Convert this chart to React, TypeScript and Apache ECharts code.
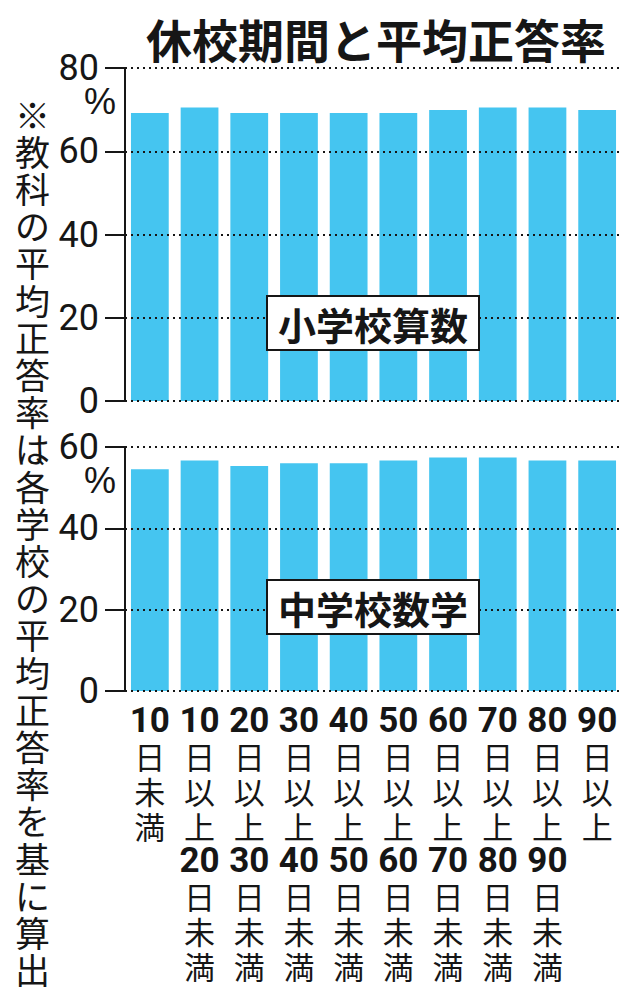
import React, { useEffect, useRef } from "react";
import * as echarts from "echarts";

const TITLE = "休校期間と平均正答率";
const NOTE_ROWS = ["※", "教", "科", "の", "平", "均", "正", "答", "率", "は", "各", "学", "校", "の", "平", "均", "正", "答", "率", "を", "基", "に", "算", "出"];
const NOTE_COMMA = "、";
const NOTE_COMMA_ROW = 9;
const CATEGORIES = [
  "10日未満",
  "10日以上20日未満",
  "20日以上30日未満",
  "30日以上40日未満",
  "40日以上50日未満",
  "50日以上60日未満",
  "60日以上70日未満",
  "70日以上80日未満",
  "80日以上90日未満",
  "90日以上",
];
const ELEMENTARY_MATH = [69.2, 70.5, 69.2, 69.2, 69.2, 69.2, 69.9, 70.5, 70.5, 69.9];
const JUNIOR_HIGH_MATH = [54.5, 56.7, 55.3, 56.0, 56.0, 56.7, 57.4, 57.4, 56.7, 56.7];
const TOP_LABEL = "小学校算数";
const BOTTOM_LABEL = "中学校数学";
const UNIT = "%";
const TOP_MAX = 80;
const BOTTOM_MAX = 60;
const TICK_STEP = 20;

const NUM_FONT = "Roboto, sans-serif";
const UNIT_FONT = "'Liberation Sans', 'DejaVu Sans', sans-serif";
const CJK_FONT = "'Noto Sans CJK JP', sans-serif";
const BAR_COLOR = "#45C5F0";
const INK = "#161616";

function verticalLabel(s: string): string {
  const tokens = s.match(/\d+|./g) || [];
  return tokens.map((t) => (/\d/.test(t) ? `{n|${t}}` : `{c|${t}}`)).join("\n");
}

export default function App() {
  const ref = useRef<HTMLDivElement>(null);
  useEffect(() => {
    if (!ref.current) return;
    const chart = echarts.init(ref.current, undefined, { renderer: "svg" });

    const yAxisCommon = (max: number) => ({
      type: "value" as const,
      min: 0,
      max,
      interval: TICK_STEP,
      z: 3,
      axisLine: { show: true, lineStyle: { color: INK, width: 2 } },
      axisTick: { show: true, length: 20, lineStyle: { color: INK, width: 2 } },
      axisLabel: {
        margin: 26,
        fontFamily: NUM_FONT,
        fontSize: 36,
        color: INK,
      },
      splitLine: {
        show: true,
        lineStyle: { color: INK, width: 2, type: [2, 4] as any },
      },
    });

    const rowTop = (i: number) => 95 + i * 37.2;
    const noteGraphics: any[] = NOTE_ROWS.map((ch, i) => ({
      type: "text",
      left: 15,
      top: rowTop(i),
      z: 10,
      style: {
        text: ch,
        fontFamily: CJK_FONT,
        fontSize: 35,
        lineHeight: 36,
        fill: INK,
      },
    }));
    noteGraphics.push({
      type: "text",
      left: 35,
      top: rowTop(NOTE_COMMA_ROW) + 10,
      z: 10,
      style: {
        text: NOTE_COMMA,
        fontFamily: CJK_FONT,
        fontSize: 26,
        lineHeight: 26,
        fill: INK,
      },
    });

    const unitText = (centerY: number) => ({
      type: "text",
      x: 100,
      y: centerY,
      z: 10,
      style: {
        text: UNIT,
        fontFamily: UNIT_FONT,
        fontSize: 36,
        fill: INK,
        align: "center",
        verticalAlign: "middle",
      },
    });

    const box = (label: string, top: number) => ({
      type: "group",
      left: 266,
      top,
      z: 20,
      children: [
        {
          type: "rect",
          z: 20,
          shape: { x: 0, y: 0, width: 212, height: 54 },
          style: { fill: "#fff", stroke: INK, lineWidth: 2 },
        },
        {
          type: "text",
          z: 21,
          x: 106,
          y: 27,
          style: {
            text: label,
            fontFamily: CJK_FONT,
            fontWeight: "bold",
            fontSize: 38,
            fill: INK,
            align: "center",
            verticalAlign: "middle",
          },
        },
      ],
    });

    chart.setOption({
      animation: false,
      backgroundColor: "#fff",
      title: {
        text: TITLE,
        left: 371,
        textAlign: "center",
        top: 10,
        textStyle: { fontFamily: CJK_FONT, fontWeight: "bold", fontSize: 46, color: INK },
      },
      grid: [
        { left: 125, right: 13, top: 68, height: 333 },
        { left: 125, right: 13, top: 447, height: 244 },
      ],
      xAxis: [
        {
          type: "category",
          gridIndex: 0,
          data: CATEGORIES,
          axisLine: { show: false },
          axisTick: { show: false },
          axisLabel: { show: false },
        },
        {
          type: "category",
          gridIndex: 1,
          data: CATEGORIES,
          axisLine: { show: false },
          axisTick: { show: false },
          axisLabel: {
            margin: 12,
            interval: 0,
            verticalAlign: "top",
            formatter: (v: string) => verticalLabel(v),
            rich: {
              n: {
                fontFamily: NUM_FONT,
                fontWeight: "bold",
                fontSize: 35,
                lineHeight: 35,
                color: INK,
              },
              c: {
                fontFamily: CJK_FONT,
                fontSize: 31,
                lineHeight: 35,
                color: INK,
              },
            },
          },
        },
      ],
      yAxis: [
        { ...yAxisCommon(TOP_MAX), gridIndex: 0 },
        { ...yAxisCommon(BOTTOM_MAX), gridIndex: 1 },
      ],
      series: [
        {
          type: "bar",
          xAxisIndex: 0,
          yAxisIndex: 0,
          data: ELEMENTARY_MATH,
          barWidth: "76%",
          itemStyle: { color: BAR_COLOR },
        },
        {
          type: "bar",
          xAxisIndex: 1,
          yAxisIndex: 1,
          data: JUNIOR_HIGH_MATH,
          barWidth: "76%",
          itemStyle: { color: BAR_COLOR },
        },
      ],
      graphic: [
        ...noteGraphics,
        unitText(101),
        unitText(480),
        box(TOP_LABEL, 295),
        box(BOTTOM_LABEL, 579),
      ],
    });

    return () => chart.dispose();
  }, []);

  return (
    <div
      ref={ref}
      style={{ position: "fixed", left: 0, top: 0, width: 635, height: 1000, background: "#fff" }}
    />
  );
}
